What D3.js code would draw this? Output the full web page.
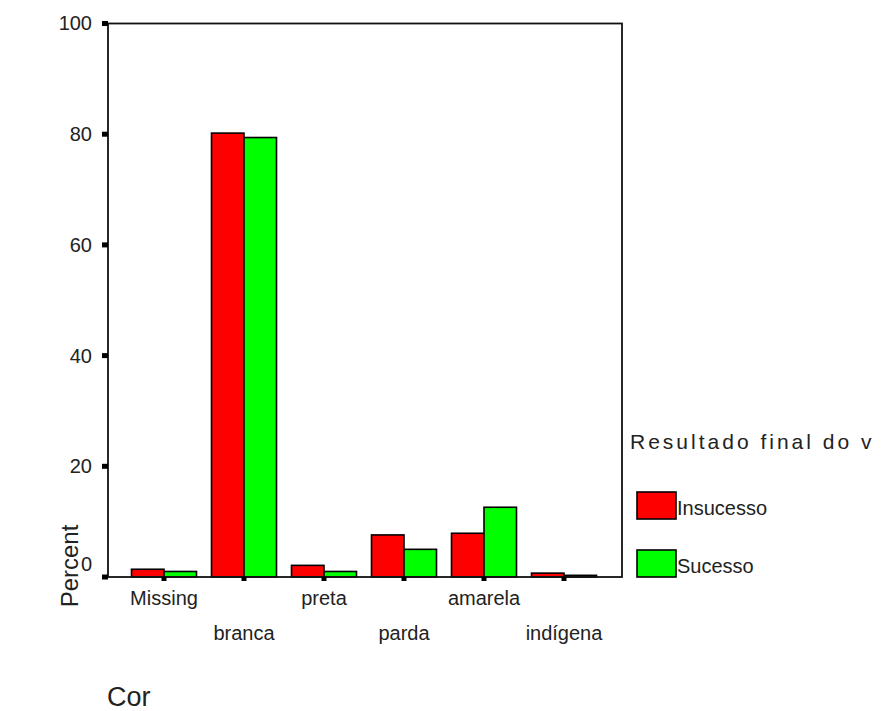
<!DOCTYPE html>
<html>
<head>
<meta charset="utf-8">
<script src="https://cdn.jsdelivr.net/npm/d3@7"></script>
<style>
  html, body { margin: 0; padding: 0; background: #fff; }
  svg { display: block; font-family: "Liberation Sans", Arial, sans-serif; }
</style>
</head>
<body>
<svg id="chart" width="882" height="711"></svg>
<script>
const categories = ["Missing", "branca", "preta", "parda", "amarela", "indígena"];
const seriesNames = ["Insucesso", "Sucesso"];
const insucesso = [1.4, 80.2, 2.1, 7.6, 7.9, 0.7];
const sucesso = [1.0, 79.4, 1.0, 5.0, 12.6, 0.3];
const yTicks = [0, 20, 40, 60, 80, 100];
const colors = ["#ff0000", "#00ff00"];
const legendTitle = "Resultado final do v";
const xTitle = "Cor";
const yTitle = "Percent";

const svg = d3.select("#chart");
const frame = { left: 108, right: 622, top: 23.5, bottom: 577 };

const y = d3.scaleLinear().domain([0, 100]).range([frame.bottom, frame.top]);
const x = d3.scaleBand().domain(categories).range([124, 604]).paddingInner(0.1875).paddingOuter(0.09375);
const xs = d3.scaleBand().domain(seriesNames).range([0, x.bandwidth()]);

const seriesValues = [insucesso, sucesso];
const data = [];
categories.forEach((c, i) => seriesNames.forEach((s, j) => data.push({ c, s, v: seriesValues[j][i], j })));

// bars
svg.append("g").selectAll("rect").data(data).join("rect")
  .attr("x", d => x(d.c) + xs(d.s))
  .attr("y", d => y(d.v))
  .attr("width", xs.bandwidth())
  .attr("height", d => y(0) - y(d.v))
  .attr("fill", d => colors[d.j])
  .attr("stroke", "#000")
  .attr("stroke-width", 1.6);

// frame
svg.append("rect")
  .attr("x", frame.left).attr("y", frame.top)
  .attr("width", frame.right - frame.left).attr("height", frame.bottom - frame.top)
  .attr("fill", "none").attr("stroke", "#111").attr("stroke-width", 1.8);

// y axis
const yAxis = svg.append("g").attr("transform", `translate(${frame.left},0)`)
  .call(d3.axisLeft(y).tickValues(yTicks).tickSize(0).tickPadding(16).tickFormat(d3.format("d")));
yAxis.select(".domain").remove();
yAxis.selectAll("text").attr("font-size", 20).attr("fill", "#222")
  .attr("font-family", "Liberation Sans, Arial, sans-serif")
  .attr("dy", d => d === 0 ? "-0.35em" : "0.32em");
svg.append("g").selectAll("rect").data(yTicks).join("rect")
  .attr("x", frame.left - 6).attr("y", d => y(d) - 2.5)
  .attr("width", 6).attr("height", 5).attr("fill", "#000");

// x axis
const xAxis = svg.append("g").attr("transform", `translate(0,${frame.bottom})`)
  .call(d3.axisBottom(x).tickSize(0).tickPadding(0));
xAxis.select(".domain").remove();
xAxis.selectAll("text").attr("font-size", 20).attr("fill", "#222")
  .attr("font-family", "Liberation Sans, Arial, sans-serif")
  .attr("dy", null)
  .attr("y", (d, i) => i % 2 === 0 ? 28 : 63);
svg.append("g").selectAll("rect").data(categories).join("rect")
  .attr("x", d => x(d) + x.bandwidth() / 2 - 2.5).attr("y", frame.bottom)
  .attr("width", 5).attr("height", 4).attr("fill", "#000");

// axis titles
svg.append("text").attr("x", 107).attr("y", 706).attr("font-size", 27).attr("fill", "#222").text(xTitle);
svg.append("text").attr("transform", "translate(78,566) rotate(-90)")
  .attr("text-anchor", "middle").attr("font-size", 24).attr("fill", "#222").text(yTitle);

// legend
svg.append("text").attr("x", 630).attr("y", 449).attr("font-size", 21)
  .attr("letter-spacing", 3).attr("fill", "#222").text(legendTitle);
const lg = svg.append("g").selectAll("g").data(seriesNames).join("g")
  .attr("transform", (d, i) => `translate(637,${492 + i * 58})`);
lg.append("rect").attr("width", 39).attr("height", 27)
  .attr("fill", (d, i) => colors[i]).attr("stroke", "#000").attr("stroke-width", 1.6);
lg.append("text").attr("x", 40).attr("y", 23).attr("font-size", 20).attr("fill", "#222").text(d => d);
</script>
</body>
</html>
